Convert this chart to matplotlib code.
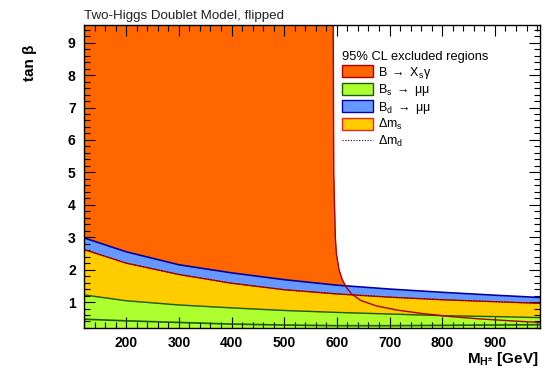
import matplotlib
matplotlib.use("Agg")
import matplotlib.pyplot as plt
from matplotlib.patches import Patch
from matplotlib.lines import Line2D
from matplotlib.ticker import MultipleLocator

plt.rcParams["font.family"] = ["Liberation Sans", "DejaVu Sans"]
plt.rcParams["mathtext.fontset"] = "custom"
plt.rcParams["mathtext.rm"] = "Liberation Sans"
plt.rcParams["mathtext.it"] = "Liberation Sans"
plt.rcParams["mathtext.bf"] = "Liberation Sans:bold"

# charged Higgs mass grid [GeV] for the bands
mass = [120, 200, 300, 400, 500, 600, 700, 800, 900, 985]
# B_d -> mumu band (upper / lower edge in tan beta)
bd_upper = [2.98, 2.55, 2.15, 1.90, 1.69, 1.52, 1.40, 1.30, 1.21, 1.14]
bd_lower = [2.62, 2.20, 1.85, 1.58, 1.38, 1.25, 1.15, 1.07, 1.01, 0.96]
# Delta m_s band lower edge / B_s -> mumu upper edge
dms_lower = [1.22, 1.04, 0.91, 0.82, 0.74, 0.68, 0.63, 0.58, 0.55, 0.52]
# inner dark line in the B_s -> mumu region
bs_inner = [0.47, 0.42, 0.37, 0.32, 0.29, 0.27, 0.27, 0.28, 0.29, 0.30]

# B -> X_s gamma exclusion boundary (tan beta, mass)
bsg_tanb = [0.2, 0.30, 0.37, 0.42, 0.48, 0.56, 0.65, 0.75, 0.88, 1.05, 1.25,
            1.45, 1.7, 2.0, 2.5, 3.0, 5.0, 9.6]
bsg_mass = [1150, 1060, 985, 930, 870, 810, 760, 715, 675, 645, 628, 618,
            610, 604, 599, 597, 594, 593]

xmin, xmax = 120, 985
ymin, ymax = 0.2, 9.55

c_orange = "#ff6600"
c_green = "#adff2f"
c_blue = "#6699ff"
c_yellow = "#ffcc00"

fig = plt.figure(figsize=(5.51, 3.71), dpi=100)
ax = fig.add_axes([0.1525, 0.116, 0.827, 0.817])

ax.fill_betweenx(bsg_tanb, xmin, bsg_mass, color=c_orange, lw=0)
ax.fill_between(mass, bd_lower, bd_upper, color=c_blue, lw=0)
ax.fill_between(mass, dms_lower, bd_lower, color=c_yellow, lw=0)
ax.fill_between(mass, ymin, dms_lower, color=c_green, lw=0)

ax.plot(mass, bd_upper, color="#0000aa", lw=1.2)
ax.plot(mass, bd_lower, color="#cc0000", lw=1.0)
ax.plot(mass, bd_lower, color="#330000", lw=0.8, ls=(0, (1, 1.5)))
ax.plot(mass, dms_lower, color="#1a5c00", lw=1.0)
ax.plot(mass, bs_inner, color="#1a5c00", lw=1.2)
ax.plot(bsg_mass, bsg_tanb, color="#aa0000", lw=1.0)

ax.set_xlim(xmin, xmax)
ax.set_ylim(ymin, ymax)
ax.xaxis.set_major_locator(MultipleLocator(100))
ax.xaxis.set_minor_locator(MultipleLocator(20))
ax.yaxis.set_major_locator(MultipleLocator(1))
ax.yaxis.set_minor_locator(MultipleLocator(0.2))
ax.tick_params(which="both", direction="in", top=True, right=True, width=0.8)
ax.tick_params(which="major", length=8, labelsize=10, pad=6)
ax.tick_params(which="minor", length=4)
for lab in ax.get_xticklabels() + ax.get_yticklabels():
    lab.set_fontweight("bold")
for sp in ax.spines.values():
    sp.set_linewidth(1.0)

fig.text(0.1525, 0.940, "Two-Higgs Doublet Model, flipped", fontsize=9.6,
         va="bottom", ha="left", color="#222222")
fig.text(0.055, 0.88, "tan β", rotation=90, ha="center", va="top",
         fontsize=11, fontweight="bold")
fig.text(0.978, 0.008, r"M$_{\mathbf{H^{\pm}}}$ [GeV]", ha="right", va="bottom",
         fontsize=11, fontweight="bold")

handles = [
    Patch(facecolor=c_orange, edgecolor="#aa0000", lw=1.0),
    Patch(facecolor=c_green, edgecolor="#1a5c00", lw=1.0),
    Patch(facecolor=c_blue, edgecolor="#0000aa", lw=1.0),
    Patch(facecolor=c_yellow, edgecolor="#ee2222", lw=1.0),
    Line2D([], [], color="#330000", lw=0.8, ls=(0, (1, 1.5))),
]
labels = [
    r"B $\rightarrow$ X$_{\mathrm{s}}$γ",
    r"B$_{\mathrm{s}}$ $\rightarrow$ μμ",
    r"B$_{\mathrm{d}}$ $\rightarrow$ μμ",
    r"Δm$_{\mathrm{s}}$",
    r"Δm$_{\mathrm{d}}$",
]
leg = ax.legend(handles, labels, title="95% CL excluded regions",
                loc="upper left", bbox_to_anchor=(0.555, 0.93),
                frameon=False, fontsize=9, title_fontsize=9.3,
                handlelength=2.5, handleheight=1.1, handletextpad=0.4,
                labelspacing=0.12, borderaxespad=0)
leg._legend_box.align = "left"

fig.savefig("out.png", dpi=100)
